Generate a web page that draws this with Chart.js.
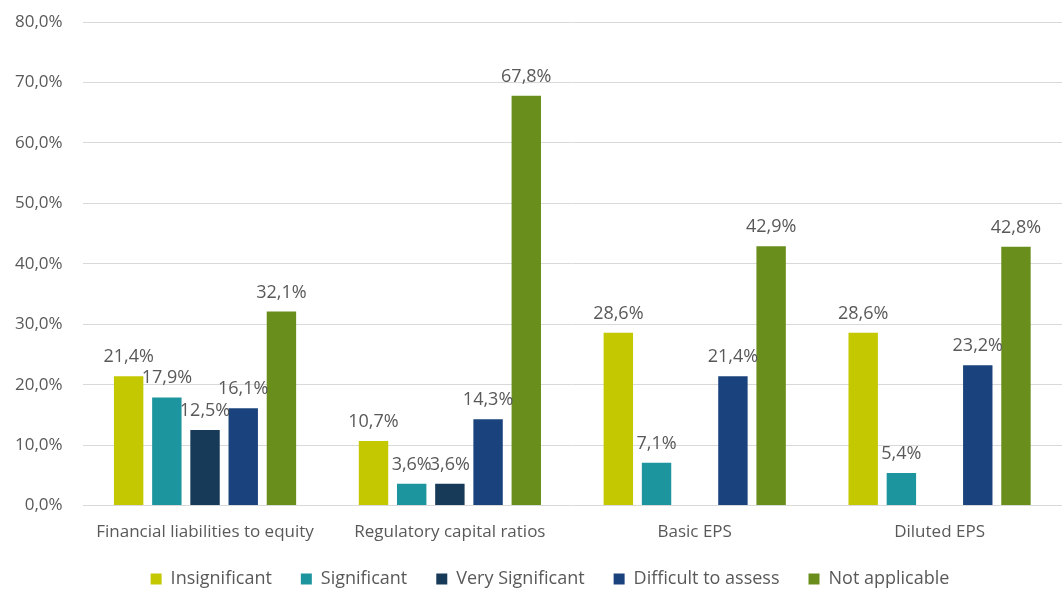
<!DOCTYPE html>
<html>
<head>
<meta charset="utf-8">
<script src="https://cdn.jsdelivr.net/npm/chart.js@4"></script>
<style>
  html, body { margin: 0; padding: 0; background: #fff; }
  #wrap { width: 1062px; height: 589px; }
</style>
</head>
<body>
<div id="wrap"><canvas id="chart"></canvas></div>
<script>
// datos del grafico
const categories = ['Financial liabilities to equity', 'Regulatory capital ratios', 'Basic EPS', 'Diluted EPS'];
const insignificant = [21.4, 10.7, 28.6, 28.6];
const significant = [17.9, 3.6, 7.1, 5.4];
const verySignificant = [12.5, 3.6, null, null];
const difficult = [16.1, 14.3, 21.4, 23.2];
const notApplicable = [32.1, 67.8, 42.9, 42.8];

const fmt = v => v.toFixed(1).replace('.', ',') + '%';

// etiquetas encima de las barras
const barLabels = {
  id: 'barLabels',
  afterDatasetsDraw(chart) {
    const ctx = chart.ctx;
    ctx.save();
    ctx.font = '18px "Open Sans"';
    ctx.fillStyle = '#595959';
    ctx.textAlign = 'center';
    ctx.textBaseline = 'alphabetic';
    chart.data.datasets.forEach((ds, i) => {
      chart.getDatasetMeta(i).data.forEach((bar, j) => {
        const v = ds.data[j];
        if (v == null) return;
        ctx.fillText(fmt(v), bar.x, bar.y - 14);
      });
    });
    ctx.restore();
  }
};

// mover un poco la leyenda a la derecha
const legendShift = {
  id: 'legendShift',
  afterLayout(chart) {
    if (chart.legend) {
      chart.legend.left += 19;
      chart.legend.right += 19;
    }
  }
};

const ds = (label, data, color) => ({
  label: label,
  data: data,
  backgroundColor: color,
  categoryPercentage: 0.78,
  barPercentage: 0.77
});

new Chart(document.getElementById('chart'), {
  type: 'bar',
  data: {
    labels: categories,
    datasets: [
      ds('Insignificant', insignificant, '#C3C800'),
      ds('Significant', significant, '#1C959E'),
      ds('Very Significant', verySignificant, '#173A58'),
      ds('Difficult to assess', difficult, '#1A437D'),
      ds('Not applicable', notApplicable, '#6A8E1C')
    ]
  },
  options: {
    responsive: true,
    maintainAspectRatio: false,
    animation: false,
    layout: { padding: { top: 0, left: -5, right: -5, bottom: -9 } },
    scales: {
      x: {
        grid: { display: false },
        border: { display: false },
        ticks: { color: '#595959', font: { family: 'Open Sans', size: 17 }, padding: 8 },
        afterFit: s => { s.height -= 9; }
      },
      y: {
        min: 0,
        max: 80,
        ticks: {
          stepSize: 10,
          color: '#595959',
          font: { family: 'Open Sans', size: 17 },
          padding: 20,
          callback: v => fmt(v)
        },
        grid: { color: '#d9d9d9', drawTicks: false },
        border: { display: false },
        afterFit: s => { s.paddingTop = 22; }
      }
    },
    plugins: {
      legend: {
        position: 'bottom',
        labels: {
          color: '#595959',
          font: { family: 'Open Sans', size: 18 },
          boxWidth: 11,
          boxHeight: 11,
          padding: 29
        }
      },
      tooltip: { enabled: false }
    }
  },
  plugins: [barLabels, legendShift]
});
</script>
</body>
</html>
